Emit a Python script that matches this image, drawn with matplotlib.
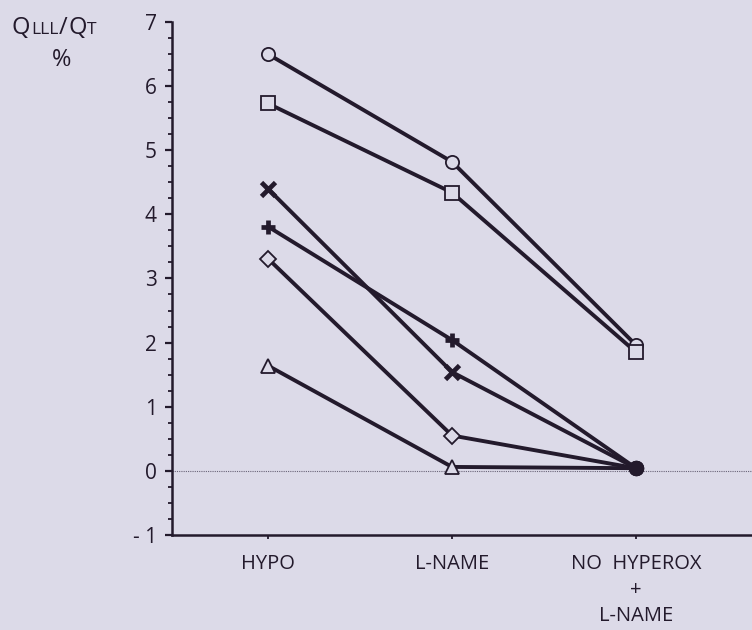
import matplotlib
matplotlib.use("Agg")
import matplotlib.pyplot as plt
from matplotlib.ticker import MultipleLocator

categories = ["HYPO", "L-NAME", "NO  HYPEROX\n+\nL-NAME"]
circle_vals = [6.50, 4.82, 1.96]
square_vals = [5.73, 4.34, 1.85]
xcross_vals = [4.40, 1.54, 0.04]
plus_vals = [3.81, 2.04, 0.04]
diamond_vals = [3.31, 0.55, 0.04]
triangle_vals = [1.64, 0.06, 0.04]
ytick_vals = [-1, 0, 1, 2, 3, 4, 5, 6, 7]
ytick_labels = ["- 1", "0", "1", "2", "3", "4", "5", "6", "7"]

bg = "#dcdae8"
ink = "#231a2c"

plt.rcParams['font.family'] = ['Open Sans', 'DejaVu Sans']

fig = plt.figure(figsize=(7.52, 6.30), dpi=100, facecolor=bg)
ax = fig.add_axes([0.229, 0.151, 0.771, 0.814])
ax.set_facecolor(bg)

x = list(range(len(categories)))
ax.axhline(0, color="#6a6478", lw=0.8, ls=(0, (1, 1)), zorder=1)

lw = 2.8
ms = 9.5
series = [
    (circle_vals, 'o', True),
    (square_vals, 's', True),
    (xcross_vals, 'x', False),
    (plus_vals, '+', False),
    (diamond_vals, 'D', False),
    (triangle_vals, '^', False),
]
for vals, mk, mark_last in series:
    n = len(vals) if mark_last else len(vals) - 1
    ax.plot(x, vals, color=ink, lw=lw, zorder=2, solid_capstyle='round')
    if mk in ('x', '+'):
        ax.plot(x[:n], vals[:n], ls='none', marker=mk, ms=10, mew=3.4,
                color=ink, zorder=3)
    else:
        msz = ms - 1.5 if mk == 'D' else ms
        ax.plot(x[:n], vals[:n], ls='none', marker=mk, ms=msz, mew=1.3,
                mfc=bg, mec=ink, zorder=3)
    if not mark_last:
        ax.plot(x[-1:], vals[-1:], ls='none', marker='o', ms=10,
                mfc=ink, mec=ink, zorder=4)

ax.set_xlim(-0.52, 2.63)
ax.set_ylim(-1, 7)
ax.set_yticks(ytick_vals)
ax.set_yticklabels(ytick_labels)
ax.yaxis.set_minor_locator(MultipleLocator(0.25))
ax.set_xticks(x)
ax.set_xticklabels(categories, linespacing=1.38)

for s in ['top', 'right']:
    ax.spines[s].set_visible(False)
for s in ['left', 'bottom']:
    ax.spines[s].set_color(ink)
    ax.spines[s].set_linewidth(1.8)

ax.tick_params(axis='y', which='major', direction='out', length=5, width=1.6,
               colors=ink, labelsize=15, pad=6)
ax.tick_params(axis='y', which='minor', direction='out', length=3, width=1.3,
               colors=ink)
ax.tick_params(axis='x', which='major', direction='out', length=3, width=1.3,
               colors=ink, labelsize=14.5, pad=11)

# y-axis title with small caps, pieces placed one after another
fig.canvas.draw()
renderer = fig.canvas.get_renderer()
pieces = [("Q", 17), ("LLL", 12.5), ("/", 17), ("Q", 17), ("T", 12.5)]
xpos = 12 / 752
ybase = 1 - 34 / 630
for txt, size in pieces:
    t = fig.text(xpos, ybase, txt, fontsize=size, color=ink, va='baseline')
    bb = t.get_window_extent(renderer=renderer)
    xpos += (bb.width + 0.5) / 752
fig.text(62 / 752, 1 - 66 / 630, "%", fontsize=17, color=ink, va='baseline',
         ha='center')

fig.savefig("out.png", dpi=100, facecolor=bg)
